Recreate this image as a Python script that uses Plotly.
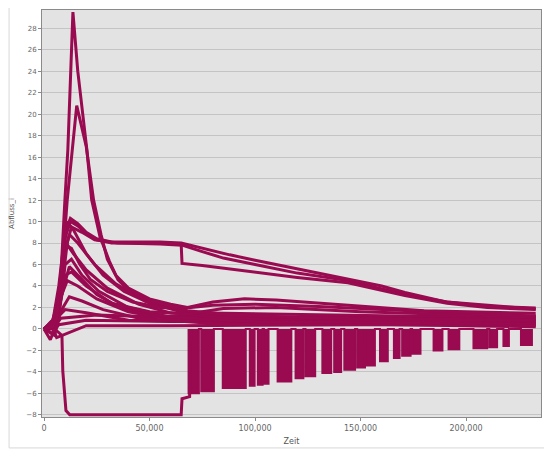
import plotly.graph_objects as go

# ---- data (time in seconds, value) ----
peak1_t = [0, 4000, 6000, 8000, 9900, 11300, 13700, 16000, 20300, 22600, 26500, 31000, 35000, 40000, 48000, 58000, 68000, 90000, 130000, 180000, 233000]
peak1_v = [0, 0.2, 1.0, 5.0, 12.0, 16.7, 29.5, 24.0, 16.7, 12.0, 8.6, 6.3, 4.6, 3.6, 2.8, 2.2, 1.7, 1.3, 1.0, 0.9, 0.8]

peak2_t = [0, 5000, 8000, 11000, 15500, 20000, 23500, 27000, 30000, 34000, 40000, 50000, 60000, 68000, 80000, 95000, 110000, 130000, 150000, 180000, 233000]
peak2_v = [0, 0.5, 4.0, 12.0, 20.8, 17.0, 12.0, 8.8, 6.5, 5.0, 3.8, 2.8, 2.3, 2.0, 2.5, 2.8, 2.7, 2.4, 2.1, 1.7, 1.45]

upper_t = [0, 4000, 7000, 10000, 12500, 16000, 20000, 25000, 32000, 45000, 55000, 65000, 75000, 88000, 100000, 120000, 144000, 160000, 171000, 191000, 210000, 233000]
upper_v = [0, 0.5, 4.0, 9.0, 10.3, 9.8, 9.0, 8.4, 8.1, 8.1, 8.1, 8.0, 7.5, 6.9, 6.4, 5.6, 4.7, 4.0, 3.4, 2.5, 2.1, 1.95]

step_t = [0, 4000, 7000, 10000, 12500, 16000, 20000, 25000, 32000, 45000, 55000, 65000, 65400, 75000, 100000, 120000, 144000, 171000, 191000, 210000, 233000]
step_v = [0, 0.4, 3.5, 8.5, 10.0, 9.6, 8.9, 8.3, 8.0, 8.0, 8.0, 7.9, 6.1, 5.9, 5.3, 4.8, 4.3, 3.1, 2.4, 2.0, 1.8]

loop_t = [0, 5000, 8000, 11000, 13000, 18000, 24000, 35000, 55000, 65400, 75000, 85000, 100000, 120000, 144000, 171000, 191000, 233000]
loop_v = [0, 0.3, 3.0, 8.0, 9.5, 9.0, 8.3, 8.0, 7.9, 7.8, 7.2, 6.6, 6.0, 5.2, 4.5, 3.2, 2.5, 1.85]

k1_t = [0, 5000, 8000, 11000, 14000, 20000, 28000, 38000, 50000, 65000, 90000, 140000, 233000]
k1_v = [0, 0.5, 5.0, 10.0, 9.2, 7.0, 5.0, 3.5, 2.4, 1.6, 1.2, 1.0, 0.9]

k2_t = [0, 5000, 8000, 10500, 14000, 20000, 30000, 45000, 60000, 90000, 233000]
k2_v = [0, 0.3, 4.0, 8.0, 7.0, 5.5, 3.8, 2.3, 1.5, 1.0, 0.7]

k3_t = [0, 5000, 7000, 10000, 13000, 18000, 26000, 40000, 60000, 100000, 233000]
k3_v = [0, -0.6, 1.0, 6.0, 6.5, 5.0, 3.5, 2.0, 1.1, 0.7, 0.5]

k4_t = [0, 4000, 8000, 11000, 16000, 25000, 40000, 60000, 233000]
k4_v = [0, 0.8, 3.0, 4.5, 4.0, 2.8, 1.6, 0.9, 0.4]

k5_t = [0, 5000, 9000, 12000, 18000, 28000, 45000, 80000, 233000]
k5_v = [0, 0.2, 2.0, 3.0, 2.6, 1.8, 1.0, 0.5, 0.3]

k6_t = [0, 6000, 10000, 20000, 40000, 233000]
k6_v = [0, 1.0, 1.8, 1.5, 0.8, 0.2]

k7_t = [0, 3000, 6000, 10000, 13000, 17000, 22000, 30000, 42000, 55000, 65000, 80000, 100000, 130000, 160000, 233000]
k7_v = [0, -1.0, 0.5, 7.8, 7.5, 6.0, 4.6, 3.5, 2.5, 2.0, 1.9, 2.2, 2.3, 2.1, 1.8, 1.2]

k8_t = [0, 6000, 10000, 13000, 20000, 32000, 50000, 68000, 85000, 110000, 150000, 233000]
k8_v = [0, 0.6, 5.0, 5.3, 4.0, 2.4, 1.6, 1.4, 1.9, 2.0, 1.6, 1.1]

k9_t = [0, 6000, 9000, 12000, 16000, 24000, 34000, 48000, 70000, 233000]
k9_v = [0, 0.4, 6.5, 8.8, 8.0, 6.0, 4.2, 2.6, 1.5, 1.0]

k10_t = [0, 5000, 9500, 12000, 17000, 25000, 36000, 55000, 233000]
k10_v = [0, 0.2, 4.0, 5.8, 4.8, 3.2, 2.0, 1.2, 0.6]

base_t = [0, 3000, 6000, 20000, 60000, 120000, 233000]
base_v = [0, 0.6, -0.8, 0.3, 0.3, 0.35, 0.45]

base2_t = [0, 4000, 7000, 20000, 60000, 120000, 233000]
base2_v = [0, -0.4, 0.4, 0.8, 0.7, 0.75, 0.8]

base3_t = [0, 5000, 8000, 25000, 60000, 120000, 233000]
base3_v = [0, 0.2, 1.0, 1.3, 1.1, 1.1, 1.2]

neg_t = [0, 5000, 8500, 8900, 10400, 12200, 65000, 65400, 69000, 69500]
neg_v = [0, 0, -0.6, -3.9, -7.6, -8.0, -8.0, -6.5, -6.3, 0]

# drain pulses: start time, end time, depth
pulse_start = [68500, 74500, 84700, 97500, 101300, 104200, 110700, 119200, 123900, 131900, 137500, 142300, 148400, 152200, 159200, 165800, 169700, 174400, 184600, 191700, 203500, 211000, 217700, 226000]
pulse_end = [73400, 80500, 95600, 99800, 103600, 106400, 117200, 122900, 128500, 136100, 140800, 147400, 152100, 156800, 162900, 168500, 173700, 178400, 188800, 196800, 210000, 214700, 220300, 231200]
pulse_depth = [-6.0, -5.8, -5.5, -5.3, -5.2, -5.1, -4.9, -4.6, -4.4, -4.1, -4.0, -3.8, -3.6, -3.4, -3.0, -2.7, -2.5, -2.3, -2.0, -1.9, -1.8, -1.7, -1.6, -1.5]

x_ticks = [0, 50000, 100000, 150000, 200000]
x_tick_text = ["0", "50,000", "100,000", "150,000", "200,000"]
y_ticks = list(range(-8, 29, 2))

COLOR = "#990a50"

fig = go.Figure()

# pulses as a filled line to zero
px, py = [], []
for s, e, d in zip(pulse_start, pulse_end, pulse_depth):
    px += [s, s, e, e]
    py += [0, d, d, 0]
fig.add_trace(go.Scatter(x=px, y=py, mode="lines", fill="tozeroy",
                         fillcolor=COLOR, line=dict(color=COLOR, width=2),
                         hoverinfo="skip"))

series = [
    (neg_t, neg_v), (base_t, base_v), (base2_t, base2_v), (base3_t, base3_v),
    (k6_t, k6_v), (k5_t, k5_v), (k4_t, k4_v), (k10_t, k10_v),
    (k3_t, k3_v), (k2_t, k2_v), (k9_t, k9_v), (k1_t, k1_v), (k8_t, k8_v), (k7_t, k7_v),
    (loop_t, loop_v), (step_t, step_v), (upper_t, upper_v),
    (peak2_t, peak2_v), (peak1_t, peak1_v),
]
for t, v in series:
    fig.add_trace(go.Scatter(x=t, y=v, mode="lines",
                             line=dict(color=COLOR, width=3),
                             hoverinfo="skip"))

fig.update_layout(
    width=544, height=442,
    margin=dict(l=34, r=11, t=2, b=33, autoexpand=False),
    paper_bgcolor="white",
    plot_bgcolor="#e3e3e3",
    showlegend=False,
    font=dict(family="DejaVu Sans", size=7, color="#666666"),
    xaxis=dict(range=[-950, 235500], tickvals=x_ticks, ticktext=x_tick_text,
               automargin=False, tickfont=dict(size=8),
               showgrid=False, zeroline=False, showline=True, mirror=True,
               linecolor="#8a8a8a",
               linewidth=1, ticks="outside", ticklen=3, tickcolor="#8a8a8a",
               title=dict(text="Zeit", font=dict(size=8, color="#555555"), standoff=6)),
    yaxis=dict(range=[-8.2, 29.7], tickvals=y_ticks, automargin=False,
               showgrid=True, gridcolor="#c4c4c4", gridwidth=1, zeroline=False,
               showline=True, mirror=True, linecolor="#8a8a8a", linewidth=1,
               ticks="outside", ticklen=3, tickcolor="#8a8a8a",
               title=dict(text="Abfluss_i", font=dict(size=7, color="#555555"), standoff=10)),
    shapes=[dict(type="rect", xref="paper", yref="paper",
                 x0=-0.066, x1=1.014, y0=-0.076, y1=1.02,
                 line=dict(color="#d8d8d8", width=1), layer="below")],
)

fig.write_html("out.html")
